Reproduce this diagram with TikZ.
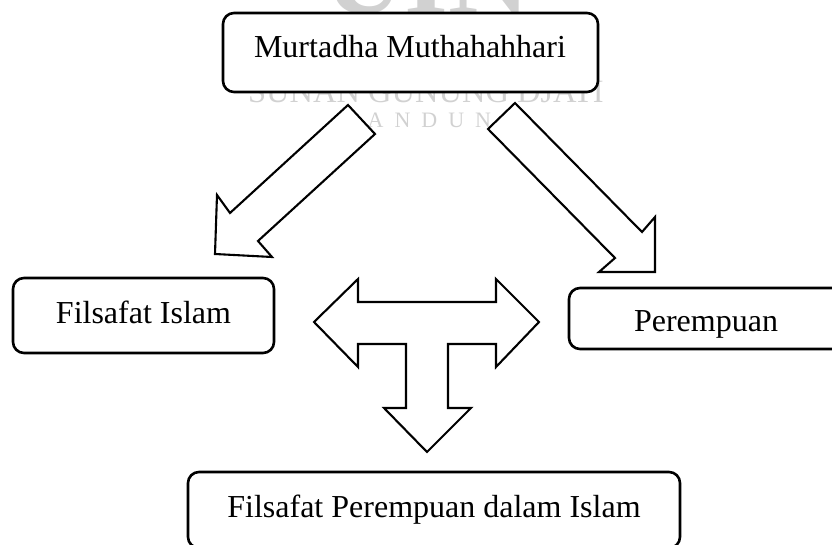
\documentclass[tikz,border=0pt]{standalone}
\usepackage{fontspec}
\setmainfont{Liberation Serif}
\begin{document}
\begin{tikzpicture}[x=1pt,y=-1pt,
  box/.style={draw=black, line width=2.6pt, rounded corners=11pt, fill=white, inner sep=0pt},
  lbl/.style={font=\fontsize{32}{38}\selectfont, inner sep=0pt, anchor=base},
  blockarrow/.style={draw=black, line width=2.1pt, fill=white, line join=miter, miter limit=10},
  wm/.style={text=black!18, inner sep=0pt, anchor=base}]
\useasboundingbox (0,0) rectangle (832,545);
% faint watermark
\node[wm, font=\bfseries\fontsize{113}{113}\selectfont] (wmUIN) at (427,14) {UIN};
\node[wm, font=\fontsize{32.5}{34}\selectfont] (wmSGD) at (426,103) {SUNAN GUNUNG DJATI};
\node[wm, font=\fontsize{22}{24}\selectfont] (wmB) at (430,128) {B\hspace{11pt}A\hspace{11pt}N\hspace{11pt}D\hspace{11pt}U\hspace{11pt}N\hspace{11pt}G};
% boxes
\node[box, minimum width=375pt, minimum height=79pt] (mm) at (410.5,52.5) {};
\node[lbl] (mmt) at (410,58) {Murtadha Muthahahhari};
\node[box, minimum width=261pt, minimum height=75pt] (fi) at (143.5,315.5) {};
\node[lbl] (fit) at (143.5,323) {Filsafat Islam};
\node[box, minimum width=274pt, minimum height=61pt] (pr) at (706,318.5) {};
\node[lbl] (prt) at (706,331) {Perempuan};
\node[box, minimum width=492pt, minimum height=76pt] (fp) at (434,510) {};
\node[lbl] (fpt) at (434,517) {Filsafat Perempuan dalam Islam};
% block arrows
\draw[blockarrow] (348,105) -- (375,134) -- (258,241) -- (272,257) -- (215,254) -- (217,195) -- (230,213) -- cycle;
\draw[blockarrow] (515,103) -- (642,232) -- (655,217) -- (655,272) -- (599,272) -- (615,258) -- (488,129) -- cycle;
\draw[blockarrow] (314,322) -- (358,279) -- (358,302) -- (496,302) -- (496,279) -- (539,322) -- (496,367) -- (496,344)
  -- (448,344) -- (448,408) -- (471,408) -- (427,452) -- (384,408) -- (406,408) -- (406,344) -- (358,344) -- (358,367) -- cycle;
\end{tikzpicture}
\end{document}
